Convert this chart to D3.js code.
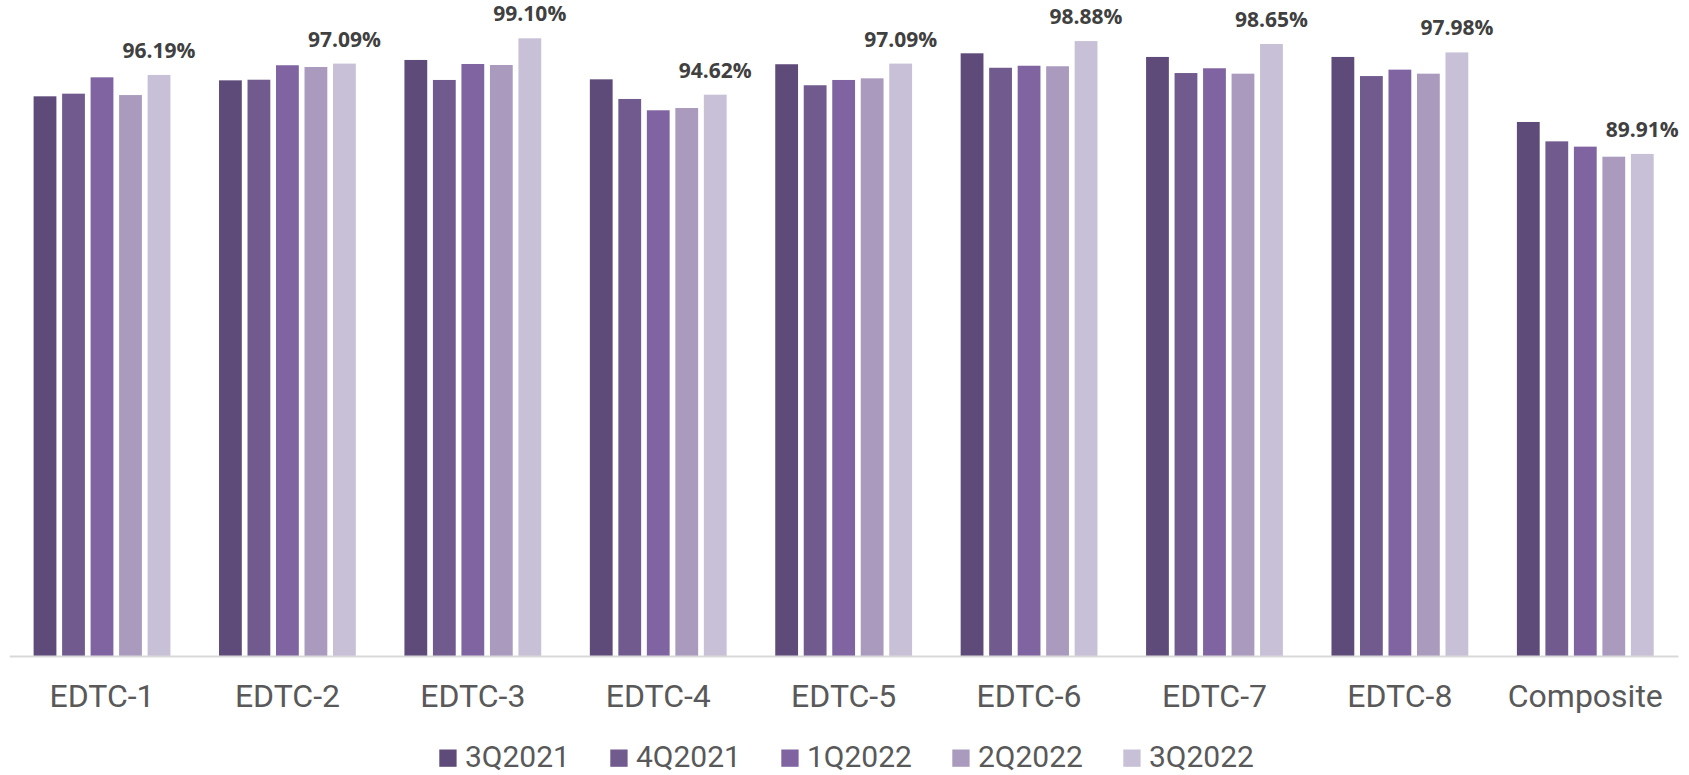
<!DOCTYPE html>
<html>
<head>
<meta charset="utf-8">
<script src="https://cdn.jsdelivr.net/npm/d3@7"></script>
<style>
    body { margin: 0; background: #fff; }
    svg { display: block; }
</style>
</head>
<body>
<div id="chart"></div>
<script>
var categories = ['EDTC-1', 'EDTC-2', 'EDTC-3', 'EDTC-4', 'EDTC-5', 'EDTC-6', 'EDTC-7', 'EDTC-8', 'Composite'];
var seriesNames = ['3Q2021', '4Q2021', '1Q2022', '2Q2022', '3Q2022'];

// percent values, one array per quarter
var q3_2021 = [94.49, 95.76, 97.38, 95.84, 97.04, 97.91, 97.62, 97.62, 92.45];
var q4_2021 = [94.70, 95.81, 95.79, 94.28, 95.37, 96.76, 96.34, 96.10, 90.91];
var q1_2022 = [96.00, 96.96, 97.06, 93.38, 95.79, 96.92, 96.72, 96.61, 90.49];
var q2_2022 = [94.59, 96.82, 96.98, 93.56, 95.92, 96.88, 96.29, 96.29, 89.69];
var q3_2022 = [96.19, 97.09, 99.10, 94.62, 97.09, 98.88, 98.65, 97.98, 89.91];

var seriesValues = [q3_2021, q4_2021, q1_2022, q2_2022, q3_2022];
var colors = ['#5f4b7a', '#715a8e', '#8064a2', '#aa9bbe', '#c8c0d7'];

var width = 1689, height = 775;
var axisY = 656;

var svg = d3.select('#chart')
    .append('svg')
    .attr('width', width)
    .attr('height', height);

var x0 = d3.scaleBand()
    .domain(categories)
    .range([9.3, 1678]);

var groupWidth = 142.5;
var x1 = d3.scaleBand()
    .domain(seriesNames)
    .range([0, groupWidth])
    .paddingInner(0.2)
    .paddingOuter(0.1);

var y = d3.scaleLinear()
    .domain([50, 100])
    .range([axisY, axisY - 12.58 * 50]);

var color = d3.scaleOrdinal().domain(seriesNames).range(colors);

var rows = categories.map(function (c, i) {
    return {
        cat: c,
        values: seriesNames.map(function (s, j) {
            return { series: s, value: seriesValues[j][i] };
        })
    };
});

// bars
var groups = svg.append('g')
    .selectAll('g')
    .data(rows)
    .enter()
    .append('g')
    .attr('transform', function (d) {
        return 'translate(' + (x0(d.cat) + x0.bandwidth() / 2 - groupWidth / 2) + ',0)';
    });

groups.selectAll('rect')
    .data(function (d) { return d.values; })
    .enter()
    .append('rect')
    .attr('x', function (d) { return x1(d.series); })
    .attr('y', function (d) { return y(d.value); })
    .attr('width', x1.bandwidth())
    .attr('height', function (d) { return y(50) - y(d.value); })
    .attr('fill', function (d) { return color(d.series); });

// data labels on the last quarter only
groups.append('text')
    .attr('x', x1('3Q2022') + x1.bandwidth() / 2)
    .attr('y', function (d) { return y(d.values[4].value) - 17; })
    .attr('text-anchor', 'middle')
    .attr('font-family', '"Open Sans", sans-serif')
    .attr('font-weight', 'bold')
    .attr('font-size', 21)
    .attr('fill', '#404040')
    .text(function (d) { return d.values[4].value.toFixed(2) + '%'; });

// x axis
var xAxis = d3.axisBottom(x0).tickSize(0).tickPadding(0);
var axisG = svg.append('g')
    .attr('class', 'x axis')
    .attr('transform', 'translate(0,' + axisY + ')')
    .call(xAxis);

axisG.select('.domain')
    .attr('stroke', '#d9d9d9')
    .attr('stroke-width', 2);

axisG.selectAll('.tick text')
    .attr('dy', 0)
    .attr('y', 51)
    .attr('font-family', 'Roboto, sans-serif')
    .attr('font-size', 32)
    .attr('fill', '#595959');

// legend
var legendStep = 171;
var legendX = 439.3;
var legend = svg.append('g')
    .attr('class', 'legend')
    .selectAll('g')
    .data(seriesNames)
    .enter()
    .append('g')
    .attr('transform', function (d, i) {
        return 'translate(' + (legendX + i * legendStep) + ',749.5)';
    });

legend.append('rect')
    .attr('width', 17.3)
    .attr('height', 17.3)
    .attr('fill', function (d) { return color(d); });

legend.append('text')
    .attr('x', 25.7)
    .attr('y', 17.3)
    .attr('font-family', 'Roboto, sans-serif')
    .attr('font-size', 30)
    .attr('fill', '#595959')
    .text(function (d) { return d; });
</script>
</body>
</html>
